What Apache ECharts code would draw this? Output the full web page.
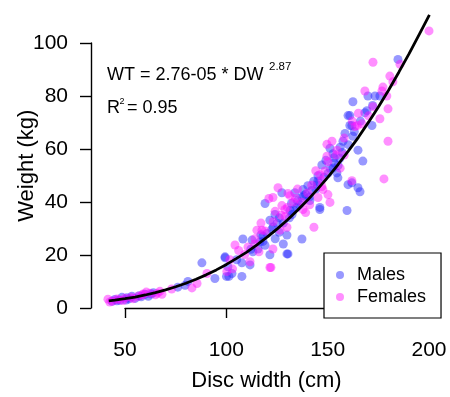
<!DOCTYPE html>
<html>
<head>
<meta charset="utf-8">
<script src="https://cdn.jsdelivr.net/npm/echarts@6/dist/echarts.min.js"></script>
<style>
html,body{margin:0;padding:0;background:#fff;}
#chart{width:450px;height:397px;}
</style>
</head>
<body>
<div id="chart"></div>
<script>
// ---- data ----
var xTicks = [50, 100, 150, 200];
var yTicks = [0, 20, 40, 60, 80, 100];

var maleDW = [43.6,47.5,53.4,59.9,45,50.5,55,57,61.5,64,48.5,52,46,51,58,63,
  81,79.6,87.9,94.3,99.3,100,76,
  127.3,119,131.3,123.9,121.4,122.4,126,129.8,108.1,112.6,116.5,115.5,121.4,129.8,99.3,107.6,111.6,100.7,102.7,107.6,101.2,118,125,113,105,128,119,124,130.3,
  112,117,120,123,126,128,131,133,136,138,141,144,148,151,153,157,160,163,166,118,132,145,155,
  159.9,168.2,160.8,158.4,162.3,157.4,164.8,151,152.5,155.9,167.2,147,152.5,154.4,145.1,154.9,159.9,164.8,144.6,140.1,137.7,133.7,137.2,141.1,134.7,146,159.4,132.3,165.8,137.2,146,161.8,139,143,149,156,135,142,150,153,
  184.5,173.2,169.7,175.6,162.3,169.2,160.8,171.7,161.8,172];
var maleWT = [1.1,1.5,3.0,3.8,1.8,1.6,2.2,3.2,3.0,4.4,2.6,2.0,1.3,2.4,2.8,3.9,
  8.7,7.2,15.8,9.8,17.7,10.6,6.5,
  42.6,38.5,35.8,34.3,32.1,28.7,27.5,26.4,24.9,24.5,23.8,21.1,18.9,19.2,18.1,15.8,15.0,14.3,11.7,10.6,10.6,26,31,20,17,23,22.5,25,19.2,
  21,26.5,27,29.5,33,31,33,36,38,41.5,41,44,48.5,52,56,58,61,66,70,24,38.5,47,53,
  72.1,73.2,68.3,65.3,64.2,62.3,58.9,59.6,57.5,55.8,54.7,53.2,52.1,50.2,49.1,48.3,45.7,44.5,45.7,45.3,43.8,42.6,40.8,39.6,37,37,35.8,34.3,43,24.9,36.2,46.4,42,47,55,60,39.5,43.5,50,54,
  93.6,79.6,79.6,79.6,77.4,74,72.1,68.3,68.3,76];

var femaleDW = [41.6,50,56.4,62.3,67.2,68.2,44,46,53,58.5,60.5,65,42.5,49,47,54,59,66,
  85.5,90.4,100.2,73,83,
  125.4,130.3,120.9,128.8,115,117.5,126.4,129.8,104.2,110.6,122.9,101.7,111.6,121.4,103,121.9,109,114,124,117,106,
  114,119,123,127,130,134,137,142,146,150,154,158,162,165,116,129,141,147,
  166.7,163.3,152,149.5,154.4,149.5,148.5,147,161.8,147.5,150,131.3,145.1,122.9,127.3,137.7,151,143.1,135,140,156,144,158,133,139,
  199.8,172.2,185.5,180.5,177.1,176.6,168.2,179,179.6,172.2,175.6,164.5,177.6,179.6,182,170];
var femaleWT = [1.9,2.3,3.0,4.2,4.9,3.8,1.2,2.0,2.6,3.5,4.6,3.6,0.8,1.4,1.7,2.1,3.9,4.2,
  7.9,11.7,12.5,5.8,6.2,
  44.5,42.3,40.4,36.2,28.3,28.3,28.3,29.4,22.6,21.9,21.1,17,16.2,14,13.5,14,19,25,35.5,31,20.5,
  23,28,31.5,34,37,40.5,39,45.5,49.5,54.5,57,63.5,70,73,20,33.5,38,45,
  69,67.9,62.3,61.1,58.9,56.6,50.9,47.5,47.2,43.8,41.9,41.5,40.8,40.8,37.7,36.2,38.9,29.4,44,42.5,52,51,57,39,35,
  104.5,92.5,91.7,87.2,83,81.5,81.5,79.6,74.7,75.5,70.9,68.3,47.9,62.3,85,72];

var curveDW = [42,45,50,55,60,65,70,75,80,85,90,95,100,105,110,115,120,125,130,135,140,145,150,155,160,165,170,175,180,185,190,195,200];
var curveWT = [1.26,1.53,2.07,2.73,3.5,4.4,5.45,6.64,8.0,9.51,11.2,13.1,15.2,17.5,19.9,22.7,25.6,28.8,32.2,35.9,39.8,44.1,48.6,53.4,58.5,63.8,69.6,75.6,82.0,88.8,95.8,103.2,110.6];

function pairs(a, b) { return a.map(function (v, i) { return [v, b[i]]; }); }

var FONT = '"Liberation Sans", Arial, sans-serif';
var chart = echarts.init(document.getElementById('chart'), null, {renderer: 'canvas'});

var option = {
  backgroundColor: '#fff',
  animation: false,
  grid: [
    {left: 91, right: 8, top: 16.5, bottom: 78},
    {left: 125, right: 21, top: 43, bottom: 89}
  ],
  xAxis: [
    {gridIndex: 0, type: 'value', min: 33.25, max: 206.2, show: true,
     axisLine: {show: false}, axisTick: {show: false}, axisLabel: {show: false}, splitLine: {show: false},
     name: 'Disc width (cm)', nameLocation: 'middle', nameGap: 55,
     nameTextStyle: {fontFamily: FONT, fontSize: 22, color: '#000'}},
    {gridIndex: 1, type: 'value', min: xTicks[0], max: xTicks[xTicks.length - 1], interval: 50,
     position: 'bottom', offset: 11,
     axisLine: {show: true, lineStyle: {color: '#000', width: 1.4}},
     axisTick: {show: true, length: 10, inside: false, lineStyle: {color: '#000', width: 1.4}},
     axisLabel: {fontFamily: FONT, fontSize: 21, color: '#000', margin: 21},
     splitLine: {show: false}}
  ],
  yAxis: [
    {gridIndex: 0, type: 'value', min: -4.15, max: 110, show: true,
     axisLine: {show: false}, axisTick: {show: false}, axisLabel: {show: false}, splitLine: {show: false},
     name: 'Weight (kg)', nameLocation: 'middle', nameGap: 53, nameRotate: 90,
     nameTextStyle: {fontFamily: FONT, fontSize: 22, color: '#000'}},
    {gridIndex: 1, type: 'value', min: yTicks[0], max: yTicks[yTicks.length - 1], interval: 20,
     position: 'left', offset: 34,
     axisLine: {show: true, lineStyle: {color: '#000', width: 1.4}},
     axisTick: {show: true, length: 11, inside: false, lineStyle: {color: '#000', width: 1.4}},
     axisLabel: {fontFamily: FONT, fontSize: 21, color: '#000', margin: 23},
     splitLine: {show: false}}
  ],
  legend: {
    data: ['Males', 'Females'],
    orient: 'vertical',
    left: 324, top: 253,
    padding: [12, 15, 11, 12],
    itemWidth: 10, itemHeight: 8, itemGap: 2,
    icon: 'circle',
    backgroundColor: '#fff',
    borderColor: '#000', borderWidth: 1.2, borderRadius: 0,
    textStyle: {fontFamily: FONT, fontSize: 18, color: '#000', lineHeight: 20, padding: [0, 0, 0, 7]}
  },
  series: [
    {name: 'Males', type: 'scatter', xAxisIndex: 0, yAxisIndex: 0,
     data: pairs(maleDW, maleWT), symbolSize: 9,
     itemStyle: {color: 'rgba(40,40,255,0.6)'}, clip: false},
    {name: 'Females', type: 'scatter', xAxisIndex: 0, yAxisIndex: 0,
     data: pairs(femaleDW, femaleWT), symbolSize: 9,
     itemStyle: {color: 'rgba(255,20,255,0.6)'}, clip: false},
    {name: 'fit', type: 'line', xAxisIndex: 0, yAxisIndex: 0,
     data: pairs(curveDW, curveWT), showSymbol: false, smooth: false, z: 5,
     lineStyle: {color: '#000', width: 2.8}, clip: false},
    {name: 'axes', type: 'scatter', xAxisIndex: 1, yAxisIndex: 1, data: [], silent: true}
  ],
  graphic: [
    {type: 'text', left: 107, top: 66, style: {text: 'WT = 2.76-05 * DW', font: '18px ' + FONT, fill: '#000'}},
    {type: 'text', left: 269, top: 61, style: {text: '2.87', font: '11.5px ' + FONT, fill: '#000'}},
    {type: 'text', left: 107, top: 99, style: {text: 'R', font: '18px ' + FONT, fill: '#000'}},
    {type: 'text', left: 119.5, top: 97, style: {text: '2', font: '9px ' + FONT, fill: '#000'}},
    {type: 'text', left: 127, top: 99, style: {text: '= 0.95', font: '18px ' + FONT, fill: '#000'}}
  ]
};
chart.setOption(option);
</script>
</body>
</html>
